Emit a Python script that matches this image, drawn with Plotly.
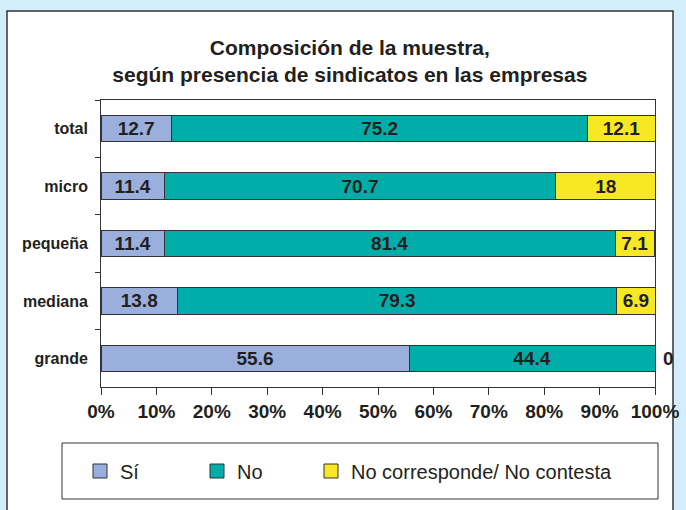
import plotly.graph_objects as go

categories = ["total", "micro", "pequeña", "mediana", "grande"]
si_values = [12.7, 11.4, 11.4, 13.8, 55.6]
no_values = [75.2, 70.7, 81.4, 79.3, 44.4]
nc_values = [12.1, 18, 7.1, 6.9, 0]
series_names = ["Sí", "No", "No corresponde/ No contesta"]
x_ticks = [0, 10, 20, 30, 40, 50, 60, 70, 80, 90, 100]
x_tick_labels = [f"{v}%" for v in x_ticks]

colors = ["#9BAFDC", "#00ADA9", "#F8E824"]
TXT = "#231F20"
FONT = "Liberation Sans, Arial, sans-serif"

W, H = 686, 510
L, R, T, B = 101, 31, 100, 123
pw, ph = W - L - R, H - T - B

def px_x(x):
    return (x - L) / pw

def px_y(y):
    return (H - B - y) / ph

def fmt(v):
    return f"{v:g}" if v != 0 else ""

legend_ids = ["legend", "legend2", "legend3"]
legend_left_px = [80, 197, 311]

fig = go.Figure()
for name, vals, col, lid in zip(series_names, [si_values, no_values, nc_values], colors, legend_ids):
    fig.add_trace(go.Bar(
        name=name, y=categories, x=vals, orientation="h",
        marker=dict(color=col, line=dict(color="#333333", width=1)),
        width=0.46,
        text=[fmt(v) for v in vals],
        textposition="inside", insidetextanchor="middle", textangle=0,
        constraintext="none",
        textfont=dict(family=FONT, size=19, color=TXT, weight="bold"),
        hoverinfo="skip", showlegend=False,
    ))
    # legend entry with a larger square swatch
    fig.add_trace(go.Scatter(
        name=name, x=[None], y=[None], mode="markers",
        marker=dict(symbol="square", size=14, color=col, line=dict(color="#333333", width=1)),
        legend=lid, showlegend=True, hoverinfo="skip",
    ))

# zero-valued labels shown just outside the bar end
for i, c in enumerate(categories):
    if nc_values[i] == 0:
        fig.add_annotation(
            x=si_values[i] + no_values[i] + nc_values[i], y=c,
            text=f"{nc_values[i]:g}", showarrow=False, xanchor="left", xshift=6,
            font=dict(family=FONT, size=19, color=TXT, weight="bold"),
        )

legend_common = dict(
    orientation="h", xanchor="left", y=px_y(471), yanchor="middle",
    font=dict(family=FONT, size=20, color=TXT),
    bgcolor="rgba(0,0,0,0)", borderwidth=0, itemsizing="trace",
)

fig.update_layout(
    width=W, height=H,
    margin=dict(l=L, r=R, t=T, b=B, autoexpand=False),
    barmode="stack",
    paper_bgcolor="#D4EDFB",
    plot_bgcolor="white",
    uniformtext=dict(minsize=19, mode="show"),
    title=dict(
        text="Composición de la muestra,<br>según presencia de sindicatos en las empresas",
        x=0.51, xref="container", xanchor="center",
        y=1 - 55 / H, yref="container", yanchor="middle",
        font=dict(family=FONT, size=21, color=TXT, weight="bold"),
    ),
    xaxis=dict(
        range=[0, 100], tickvals=x_ticks, ticktext=x_tick_labels,
        showgrid=False, zeroline=False,
        showline=True, linecolor="#333333", linewidth=1, mirror=True,
        ticks="outside", ticklen=7, tickcolor="#333333",
        tickfont=dict(family=FONT, size=19, color=TXT, weight="bold"),
        fixedrange=True,
    ),
    yaxis=dict(
        autorange="reversed", showgrid=False,
        showline=True, linecolor="#333333", linewidth=1, mirror=True,
        ticks="outside", ticklen=5, tickcolor="#333333", tickson="boundaries",
        tickfont=dict(family=FONT, size=16, color=TXT, weight="bold"),
        ticksuffix="  ",
        fixedrange=True,
    ),
    legend=dict(x=px_x(legend_left_px[0]), **legend_common),
    legend2=dict(x=px_x(legend_left_px[1]), **legend_common),
    legend3=dict(x=px_x(legend_left_px[2]), **legend_common),
    shapes=[
        dict(type="rect", xref="paper", yref="paper", layer="below",
             x0=px_x(7), x1=px_x(673), y0=px_y(515), y1=px_y(11),
             fillcolor="white", line=dict(color="#333333", width=1.5)),
        dict(type="rect", xref="paper", yref="paper",
             x0=px_x(62), x1=px_x(658), y0=px_y(499), y1=px_y(443),
             fillcolor="rgba(0,0,0,0)", line=dict(color="#333333", width=1)),
    ],
    showlegend=True,
)

fig.write_html("out.html", config={"displayModeBar": False})

# remove the browser's default page margin so the figure fills the window
with open("out.html", encoding="utf-8") as f:
    html = f.read()
html = html.replace("<head>", "<head><style>html,body{margin:0;padding:0;overflow:hidden;}</style>", 1)
with open("out.html", "w", encoding="utf-8") as f:
    f.write(html)
